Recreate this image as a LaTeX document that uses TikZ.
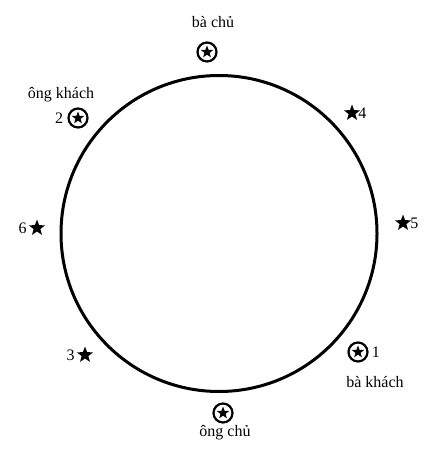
\documentclass[tikz,border=0pt]{standalone}
\usepackage{fontspec}
\setmainfont{Liberation Serif}
\usetikzlibrary{shapes.geometric}
\tikzset{
  guest/.style={star, star points=5, star point ratio=2.4, fill=black, inner sep=0pt, minimum size=17pt},
  host/.style={circle, draw, line width=2.2pt, inner sep=0pt, minimum size=19pt,
    path picture={\node[guest, minimum size=13pt] at (path picture bounding box.center) {};}},
  lbl/.style={font=\fontsize{16}{19}\selectfont, inner sep=1pt}
}
\begin{document}
\begin{tikzpicture}[x=1pt,y=-1pt]
    \useasboundingbox (0,0) rectangle (430,449);
    \coordinate (c) at (219,233.5);
    \draw[line width=3pt] (c) circle (158);

    % hosts
    \node[lbl] (bachu) at (213,22) {bà chủ};
    \node[host] (p0) at (207,52) {};
    \node[host] (p7) at (223,413) {};
    \node[lbl] (ongchu) at (225,433) {ông chủ};

    % guests
    \node[lbl] (ongkhach) at (61,95) {ông khách};
    \node[host] (p2) at (78,118) {};
    \node[lbl, left=3pt] (n2) at (p2.west) {2};
    \node[host] (p1) at (358,352) {};
    \node[lbl, right=2pt] (n1) at (p1.east) {1};
    \node[lbl] (bakhach) at (375,382) {bà khách};

    \node[guest] (p4) at (352,113) {};
    \node[lbl, right=0pt] (n4) at (p4.east) {4};
    \node[guest] (p5) at (403,223) {};
    \node[lbl, right=1pt] (n5) at (p5.east) {5};
    \node[guest] (p6) at (37,228) {};
    \node[lbl, left=4pt] (n6) at (p6.west) {6};
    \node[guest] (p3) at (85,355) {};
    \node[lbl, left=4pt] (n3) at (p3.west) {3};
\end{tikzpicture}
\end{document}
